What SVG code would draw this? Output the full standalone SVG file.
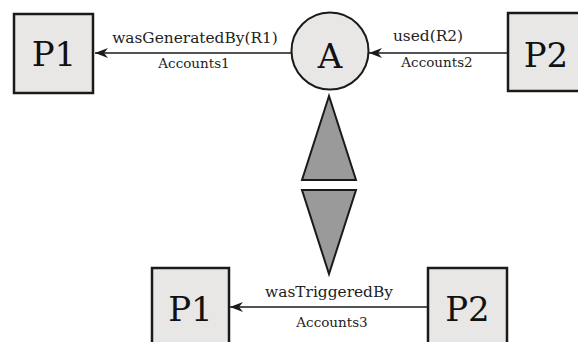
<svg xmlns="http://www.w3.org/2000/svg" width="578" height="342" viewBox="0 0 578 342">
<style>
.box{fill:#e8e7e6;stroke:#1a1a1a;stroke-width:2.5}
.tri{fill:#9a9a9a;stroke:#1a1a1a;stroke-width:2;stroke-linejoin:miter}
.edge{stroke:#1a1a1a;stroke-width:1.6;fill:none;marker-end:url(#arr)}
.big{font-family:"DejaVu Serif","Liberation Serif",serif;font-size:34px;fill:#111;text-anchor:middle}
.lbl{font-family:"DejaVu Serif","Liberation Serif",serif;font-size:15.4px;fill:#222;text-anchor:middle}
.acc{font-family:"DejaVu Serif","Liberation Serif",serif;font-size:13.5px;fill:#222;text-anchor:middle}
</style>
<defs>
<marker id="arr" markerWidth="14" markerHeight="10" refX="13" refY="5" orient="auto" markerUnits="userSpaceOnUse">
<path d="M13,5 L0,0 L4,5 L0,10 Z" fill="#1a1a1a"/>
</marker>
</defs>
<rect width="578" height="342" fill="#fff"/>
<g id="connectors">
<line class="edge" x1="291" y1="53" x2="95" y2="53"/>
<line class="edge" x1="508" y1="53" x2="369" y2="53"/>
<line class="edge" x1="428" y1="307" x2="230" y2="307"/>
<text class="lbl" x="195" y="43">wasGeneratedBy(R1)</text>
<text class="acc" x="194" y="68">Accounts1</text>
<text class="lbl" x="428" y="41">used(R2)</text>
<text class="acc" x="437" y="67">Accounts2</text>
<text class="lbl" x="329" y="297">wasTriggeredBy</text>
<text class="acc" x="332" y="327">Accounts3</text>
</g>
<g id="P1top"><rect class="box" x="14" y="14" width="79" height="79"/><text class="big" x="54" y="66">P1</text></g>
<g id="A"><circle cx="330" cy="51" r="38.5" fill="#e8e7e6" stroke="#1a1a1a" stroke-width="2"/><text class="big" x="330" y="68">A</text></g>
<g id="P2top"><rect class="box" x="508" y="13" width="80" height="78"/><text class="big" x="546" y="67">P2</text></g>
<g id="arrows">
<polygon class="tri" points="329,96 302,180 356,180"/>
<polygon class="tri" points="302,190 356,190 329,274"/>
</g>
<g id="P1bottom"><rect class="box" x="152" y="268" width="77" height="90"/><text class="big" x="190.5" y="321">P1</text></g>
<g id="P2bottom"><rect class="box" x="428" y="268" width="79" height="90"/><text class="big" x="467.5" y="321">P2</text></g>
</svg>
